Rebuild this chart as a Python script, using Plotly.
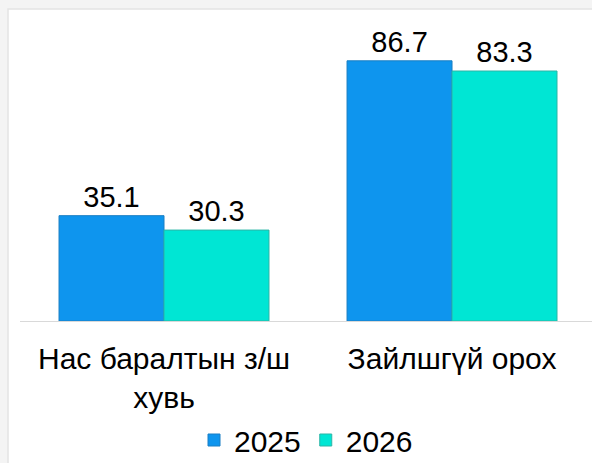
import plotly.graph_objects as go

categories = ["Нас баралтын з/ш<br>хувь", "Зайлшгүй орох"]
series_names = ["2025", "2026"]
values_2025 = [35.1, 86.7]
values_2026 = [30.3, 83.3]

colors = ["#0e95ee", "#00e6d4"]
edge_colors = ["#1a7fc4", "#2bb5a6"]

W, H = 592, 463
ML, MR, MT, MB = 20, 0, 10, 139

fig = go.Figure()
for name, vals, c, ec in zip(series_names, [values_2025, values_2026], colors, edge_colors):
    fig.add_trace(go.Bar(
        name=name, x=categories, y=vals,
        marker=dict(color=c, line=dict(color=ec, width=1)),
        text=[f"{v:.1f}" for v in vals], textposition="outside",
        textfont=dict(size=29, color="#000000"),
        cliponaxis=False,
    ))

pw = W - ML - MR
ph = H - MT - MB
# white panel over the light-gray page margin
fig.add_shape(type="rect", xref="paper", yref="paper",
              x0=(8 - ML) / pw, x1=1 + 20 / pw,
              y0=-(MB + 20) / ph, y1=1 + (MT - 9) / ph,
              fillcolor="#ffffff", line=dict(color="#e4e4e4", width=1.5), layer="below")

fig.update_layout(
    width=W, height=H,
    margin=dict(l=ML, r=MR, t=MT, b=MB),
    paper_bgcolor="#f4f4f4", plot_bgcolor="rgba(0,0,0,0)",
    font=dict(family="Arial, Liberation Sans, sans-serif", color="#000000"),
    barmode="group", bargap=0.271, bargroupgap=0,
    showlegend=True,
    legend=dict(orientation="h", x=0.5, xanchor="center", yref="container",
                y=1 - 440 / H, yanchor="middle", font=dict(size=30),
                bgcolor="rgba(0,0,0,0)"),
    xaxis=dict(range=[-0.5, 1.486], showline=True, linecolor="#d9d9d9", linewidth=1,
               ticks="", tickfont=dict(size=30, color="#000000"), showgrid=False,
               ticklabelstandoff=11),
    yaxis=dict(range=[0, (H - MB - MT) / 3.03], visible=False, showgrid=False),
)

fig.write_html(
    "out.html",
    config={"displayModeBar": False},
    post_script="document.body.style.margin='0';document.body.style.overflow='hidden';"
                "document.body.style.background='#f4f4f4';",
)
